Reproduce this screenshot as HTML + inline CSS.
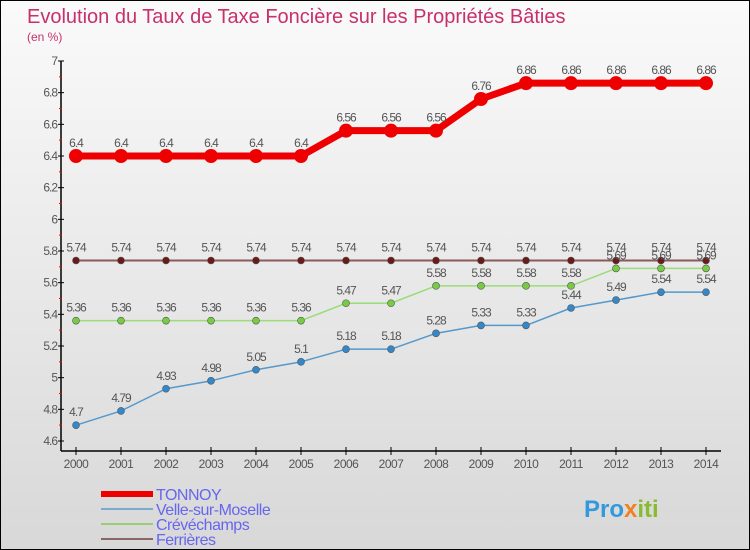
<!DOCTYPE html>
<html><head><meta charset="utf-8"><style>
body{margin:0}
#c{width:750px;height:550px;position:relative;box-sizing:border-box;border:1px solid #000;background:linear-gradient(#fafafa,#d8d8d8);font-family:"Liberation Sans",sans-serif;overflow:hidden}
</style></head><body>
<div id="c">
<svg id="s" width="750" height="550" style="position:absolute;left:0;top:0">
<text x="26" y="22" font-size="20" fill="#c8306a">Evolution du Taux de Taxe Foncière sur les Propriétés Bâties</text>
<text x="26" y="40" font-size="12" fill="#c8306a">(en %)</text>
</svg>
</div>
<script>
const years=[2000,2001,2002,2003,2004,2005,2006,2007,2008,2009,2010,2011,2012,2013,2014];
const yTicks=[4.6,4.8,5,5.2,5.4,5.6,5.8,6,6.2,6.4,6.6,6.8,7];
const tonnoy=[6.4,6.4,6.4,6.4,6.4,6.4,6.56,6.56,6.56,6.76,6.86,6.86,6.86,6.86,6.86];
const velle=[4.7,4.79,4.93,4.98,5.05,5.1,5.18,5.18,5.28,5.33,5.33,5.44,5.49,5.54,5.54];
const creve=[5.36,5.36,5.36,5.36,5.36,5.36,5.47,5.47,5.58,5.58,5.58,5.58,5.69,5.69,5.69];
const ferr=[5.74,5.74,5.74,5.74,5.74,5.74,5.74,5.74,5.74,5.74,5.74,5.74,5.74,5.74,5.74];
const svg=document.getElementById('s');const NS='http://www.w3.org/2000/svg';
const X=i=>75+i*45;const Y=v=>60+(7-v)/2.4*380;
function mk(t,a,p){const e=document.createElementNS(NS,t);for(const k in a)e.setAttribute(k,a[k]);(p||svg).appendChild(e);return e;}
const ax=mk('g',{});


mk('line',{x1:60,y1:60,x2:60,y2:450,stroke:'#000','stroke-width':1.5},ax);
mk('line',{x1:60,y1:450,x2:720,y2:450,stroke:'#000','stroke-width':1.5},ax);
yTicks.forEach(v=>{const y=Y(v);mk('line',{x1:57,y1:y,x2:63,y2:y,stroke:'#000'},ax);
 mk('line',{x1:58,y1:y+15.8,x2:61,y2:y+15.8,stroke:v>4.6?'#f00':'none'},ax);
 const t=mk('text',{x:56,y:y+4,'text-anchor':'end','font-size':12,fill:'#555','letter-spacing':'-1'},ax);t.textContent=String(v);
 
 });
years.forEach((yr,i)=>{mk('line',{x1:X(i),y1:446,x2:X(i),y2:454,stroke:'#000'},ax);
 const t=mk('text',{x:X(i),y:467,'text-anchor':'middle','font-size':12,fill:'#555','letter-spacing':'-0.5'},ax);t.textContent=yr;
 
 });
function series(name,data,color,lw,r,mc){const g=mk('g',{});
 
 
 mk('polyline',{points:data.map((v,i)=>X(i)+','+Y(v)).join(' '),fill:'none',stroke:color,'stroke-width':lw,'stroke-linejoin':'round'},g);
 data.forEach((v,i)=>{const c=mk('circle',{cx:X(i),cy:Y(v),r:r,fill:mc,stroke:'#555','stroke-width':r>5?0:0.6},g);
  
  
  const t=mk('text',{x:X(i),y:Y(v)-9,'text-anchor':'middle','font-size':12,fill:'#555','letter-spacing':'-1'},g);t.textContent=String(v);
  
  });}
series('series-ferrieres',ferr,'#8b5a5a',2,3.5,'#6b1a1a');
series('series-crevechamps',creve,'#99dd77',1.5,3.5,'#77cc44');
series('series-velle',velle,'#5599cc',1.5,3.5,'#3388cc');
series('series-tonnoy',tonnoy,'#ee0000',7,7,'#ee0000');
const lg=[['TONNOY','#ee0000',6],['Velle-sur-Moselle','#7aabcc',2],['Crévéchamps','#99cc77',2],['Ferrières','#8b6666',2]];
lg.forEach((l,i)=>{const g=mk('g',{});
 
 
 const y=493+i*15;mk('line',{x1:100,y1:y,x2:152,y2:y,stroke:l[1],'stroke-width':l[2]},g);
 const t=mk('text',{x:155,y:y+6,'font-size':16,fill:'#6666ee','letter-spacing':'-0.5'},g);t.textContent=l[0];});
const lo=mk('text',{x:583,y:516,'font-size':24,'font-weight':'bold',fill:'#f08020'});


lo.innerHTML='<tspan fill="#3399dd">Pro</tspan><tspan fill="#f08020">x</tspan><tspan fill="#88bb33">iti</tspan>';
</script>
</body></html>
